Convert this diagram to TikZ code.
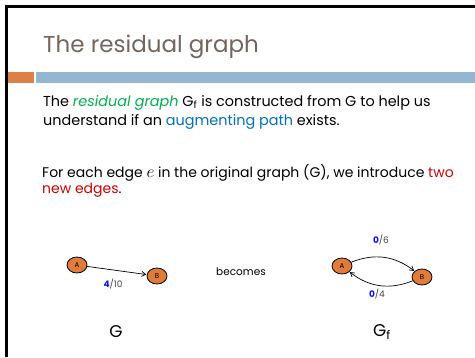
\documentclass[tikz,border=0pt]{standalone}
\usepackage{fontspec}
\setmainfont{Poppins}
\usetikzlibrary{shapes.geometric,arrows.meta}
\definecolor{titlecol}{HTML}{75655C}
\definecolor{barorange}{HTML}{DD8047}
\definecolor{barblue}{HTML}{94B6D2}
\definecolor{greencol}{HTML}{00B050}
\definecolor{bluecol}{HTML}{0070C0}
\definecolor{redcol}{HTML}{D00000}
\definecolor{nodeorange}{HTML}{E07B39}
\definecolor{flowblue}{HTML}{1010FF}
\definecolor{capgray}{HTML}{404040}
\tikzset{
  vtx/.style={ellipse, draw=black, line width=0.8pt, fill=nodeorange, minimum width=20pt, minimum height=16pt, inner sep=0pt, font=\fontsize{7}{7}\selectfont},
  txt/.style={anchor=base west, inner sep=0pt, font=\fontsize{14}{15}\selectfont},
  edge/.style={-{Straight Barb[length=4pt,width=5pt]}, line width=0.7pt, shorten >=0.5pt},
  elabel/.style={inner sep=0pt, font=\fontsize{9}{9}\selectfont, text=capgray},
  biglabel/.style={inner sep=0pt, font=\fontsize{17}{17}\selectfont}
}
\begin{document}
\begin{tikzpicture}[x=1pt,y=-1pt]
\useasboundingbox (0,0) rectangle (475,357);
\fill[white] (0,0) rectangle (475,357);
% frame
\draw[line width=2.2pt] (6.5,357) -- (6.5,6.5) -- (475,6.5);
% bars
\fill[barorange] (8,72) rectangle (34,83);
\fill[barblue] (36,72) rectangle (475,83);
% title
\node[anchor=base west, inner sep=0pt, text=titlecol, font=\fontsize{23}{23}\selectfont] (title) at (43,52) {The residual graph};
% body
\node[txt, font=\fontsize{14.4}{15}\selectfont] (l1) at (43,106) {The \textcolor{greencol}{\textit{residual graph}} G\textsubscript{f} is constructed from G to help us};
\node[txt, font=\fontsize{14.4}{15}\selectfont] (l2) at (43,125) {understand if an \textcolor{bluecol}{augmenting path} exists.};
\node[txt] (l3) at (42,177) {For each edge {\fontsize{16}{16}\selectfont$e$} in the original graph (G), we introduce \textcolor{redcol}{two}};
\node[txt] (l4) at (42,193) {\textcolor{redcol}{new edges}.};
% graph G
\node[vtx] (A) at (77,265) {A};
\node[vtx] (B) at (157,276) {B};
\draw[edge] (A) -- (B);
\node[elabel] (lab1) at (113,284) {\textbf{\textcolor{flowblue}{4}}/10};
\node[biglabel] (G) at (116,332) {G};
% becomes
\node[inner sep=0pt, font=\fontsize{10.5}{11}\selectfont] (becomes) at (241,272) {becomes};
% graph Gf
\node[vtx] (A2) at (342,266) {A};
\node[vtx] (B2) at (422,277) {B};
\draw[edge] (A2) to[bend left=30] (B2);
\draw[edge] (B2) to[bend left=30] (A2);
\node[elabel] (lab2) at (381,240) {\textbf{\textcolor{flowblue}{0}}/6};
\node[elabel] (lab3) at (377,294) {\textbf{\textcolor{flowblue}{0}}/4};
\node[biglabel] (Gf) at (382,332) {G\textsubscript{f}};
\end{tikzpicture}
\end{document}
